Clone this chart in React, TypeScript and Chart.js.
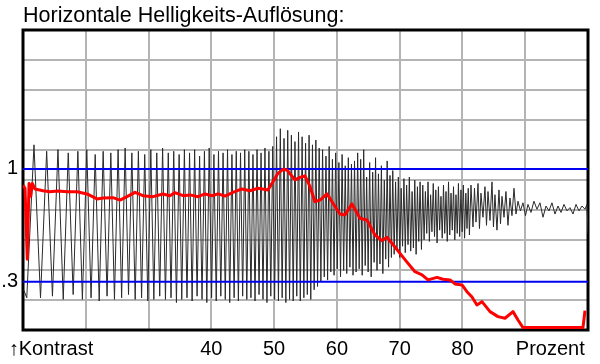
import React, { useEffect, useRef } from 'react';
import { Chart, registerables } from 'chart.js';

Chart.register(...registerables);

// ---------- text ----------
const TITLE = 'Horizontale Helligkeits-Auflösung:';

// ---------- axes ----------
const xMin = 10;
const xMax = 100;
const xGridStep = 10;
const yMin = 0;
const yMax = 1.863;
const yGridCount = 10;

const xTickValues = [14.46, 40, 50, 60, 70, 80, 94.0];
const xTickLabels = ['↑Kontrast', '40', '50', '60', '70', '80', 'Prozent'];
const yTickValues = [0.3, 1];
const yTickLabels = ['.3', '1'];

// blue reference levels
const referenceLevels = [1, 0.3];

// ---------- red contrast curve ----------
const redX = [10, 10.32, 10.68, 10.96, 11.23, 11.48, 11.91, 13.19, 14.30, 15.58, 17.01, 18.60, 20.19, 21.79, 22.74, 24.34, 25.45, 26.57, 27.84, 29.11, 30.71, 32.30, 33.41, 34.21, 35.49, 36.60, 37.88, 38.99, 40.10, 41.06, 42.18, 43.45, 44.88, 46.16, 47.43, 49.02, 49.82, 50.62, 51.41, 52.05, 53.33, 54.12, 54.92, 55.72, 56.51, 57.31, 58.42, 59.38, 60.49, 61.29, 62.40, 63.68, 64.79, 66.07, 67.18, 67.98, 68.78, 70.05, 71.33, 72.44, 73.56, 74.51, 75.95, 76.90, 78.02, 78.81, 79.93, 80.72, 81.52, 82.31, 83.11, 84.39, 85.66, 86.78, 88.05, 88.85, 89.64, 99.20, 99.52];
const redY = [0.90, 0.88, 0.44, 0.91, 0.83, 0.91, 0.876, 0.865, 0.859, 0.863, 0.859, 0.859, 0.845, 0.814, 0.820, 0.822, 0.807, 0.828, 0.855, 0.834, 0.828, 0.845, 0.834, 0.853, 0.834, 0.839, 0.828, 0.845, 0.834, 0.845, 0.832, 0.855, 0.876, 0.865, 0.880, 0.870, 0.921, 0.973, 0.998, 0.994, 0.932, 0.948, 0.957, 0.890, 0.797, 0.807, 0.845, 0.787, 0.720, 0.714, 0.783, 0.694, 0.683, 0.590, 0.555, 0.576, 0.539, 0.476, 0.414, 0.362, 0.342, 0.311, 0.327, 0.315, 0.311, 0.286, 0.280, 0.238, 0.205, 0.155, 0.176, 0.114, 0.083, 0.073, 0.114, 0.062, 0.015, 0.015, 0.120];

// ---------- black luminance signal (sweep) ----------
const waveLeadX = [10.1, 10.6];
const waveLeadY = [0.25, 0.20];

// positions of successive extremes (peak, trough, peak, ...)
const waveX = [
  11.75, 12.79, 13.77, 14.69, 15.57, 16.41, 17.21, 17.99, 18.74, 19.46,
  20.16, 20.84, 21.50, 22.14, 22.77, 23.39, 23.99, 24.57, 25.15, 25.71,
  26.27, 26.81, 27.34, 27.87, 28.38, 28.89, 29.39, 29.88, 30.36, 30.84,
  31.31, 31.78, 32.24, 32.69, 33.14, 33.58, 34.01, 34.44, 34.87, 35.29,
  35.71, 36.12, 36.53, 36.94, 37.34, 37.73, 38.13, 38.52, 38.90, 39.28,
  39.66, 40.04, 40.41, 40.78, 41.14, 41.51, 41.87, 42.22, 42.58, 42.93,
  43.28, 43.63, 43.97, 44.31, 44.65, 44.99, 45.32, 45.65, 45.98, 46.31,
  46.63, 46.96, 47.28, 47.60, 47.92, 48.23, 48.54, 48.86, 49.17, 49.47,
  49.78, 50.08, 50.39, 50.69, 50.99, 51.28, 51.58, 51.87, 52.17, 52.46,
  52.75, 53.04, 53.32, 53.61, 53.89, 54.17, 54.46, 54.74, 55.01, 55.29,
  55.57, 55.84, 56.11, 56.38, 56.65, 56.92, 57.18, 57.45, 57.72, 57.99,
  58.26, 58.52, 58.77, 59.03, 59.29, 59.55, 59.80, 60.06, 60.32, 60.58,
  60.83, 61.08, 61.33, 61.57, 61.82, 62.07, 62.32, 62.57, 62.81, 63.06,
  63.31, 63.55, 63.79, 64.03, 64.27, 64.51, 64.74, 64.98, 65.22, 65.46,
  65.70, 65.93, 66.16, 66.39, 66.62, 66.86, 67.09, 67.32, 67.55, 67.78,
  68.01, 68.23, 68.46, 68.68, 68.90, 69.12, 69.35, 69.57, 69.79, 70.02,
  70.24, 70.46, 70.68, 70.89, 71.11, 71.33, 71.54, 71.76, 71.98, 72.19,
  72.41, 72.62, 72.83, 73.04, 73.25, 73.47, 73.68, 73.89, 74.10, 74.31,
  74.52, 74.73, 74.93, 75.14, 75.35, 75.55, 75.76, 75.96, 76.17, 76.37,
  76.58, 76.78, 76.98, 77.18, 77.38, 77.58, 77.78, 77.98, 78.18, 78.38,
  78.58, 78.78, 78.97, 79.17, 79.36, 79.56, 79.76, 79.95, 80.15, 80.34,
  80.54, 80.73, 80.92, 81.11,
];

const wavePeaks = [
  1.15, 1.11, 1.12, 1.10, 1.11, 1.12, 1.09, 1.11, 1.10, 1.12, 1.13, 1.10, 1.11, 1.09, 1.12, 1.10, 1.13, 1.10, 1.11, 1.09, 1.12,
  1.10, 1.12, 1.08, 1.11, 1.13, 1.09, 1.11, 1.10, 1.12, 1.09, 1.11, 1.10, 1.12,
  1.11, 1.09, 1.12, 1.10, 1.13, 1.11, 1.14,
  1.20, 1.25, 1.19, 1.24, 1.21, 1.17, 1.23,
  1.20, 1.16, 1.21, 1.15, 1.18, 1.13,
  1.12, 1.08, 1.14, 1.06, 1.10, 1.04, 1.09, 1.02, 1.07, 1.03, 1.05,
  1.10, 1.06, 1.12, 0.95, 1.04, 0.98, 1.07, 0.97, 1.02, 0.93, 1.05, 0.96,
  0.99, 0.92, 0.95, 0.88, 0.94, 0.90, 0.95, 0.86, 0.93, 0.89, 0.92,
  0.90, 0.86, 0.92, 0.84, 0.91, 0.87, 0.89, 0.83, 0.90, 0.86, 0.92, 0.85, 0.89, 0.84, 0.91, 0.87, 0.90, 0.85, 0.88,
];
const waveTroughs = [
  0.20, 0.21, 0.19, 0.22, 0.19, 0.20, 0.18, 0.21, 0.19, 0.20, 0.22, 0.19, 0.20, 0.18, 0.19, 0.21, 0.19, 0.20, 0.17, 0.19, 0.20,
  0.18, 0.21, 0.19, 0.17, 0.20, 0.18, 0.21, 0.19, 0.17, 0.20, 0.18, 0.21, 0.19,
  0.20, 0.18, 0.22, 0.19, 0.17, 0.21, 0.19,
  0.18, 0.20, 0.17, 0.19, 0.18, 0.21, 0.18,
  0.20, 0.22, 0.19, 0.25, 0.27, 0.30,
  0.33, 0.31, 0.36, 0.34, 0.38, 0.33, 0.37, 0.35, 0.39, 0.34, 0.36,
  0.38, 0.34, 0.40, 0.36, 0.33, 0.42, 0.37, 0.41, 0.35, 0.44, 0.39, 0.45,
  0.47, 0.50, 0.45, 0.52, 0.48, 0.53, 0.49, 0.51, 0.47, 0.55, 0.50,
  0.56, 0.60, 0.55, 0.61, 0.58, 0.54, 0.62, 0.57, 0.60, 0.55, 0.59, 0.62, 0.56, 0.60, 0.58, 0.61, 0.57, 0.63, 0.59,
];

// residual noise beyond the resolution limit
const noiseX = [
  81.36, 81.68, 81.92, 82.16, 82.48, 82.71, 82.95, 83.27, 83.59, 83.83,
  84.07, 84.39, 84.71, 84.94, 85.18, 85.50, 85.82, 86.06, 86.30, 86.62,
  86.93, 87.25, 87.57, 87.89, 88.21, 88.53, 88.85, 89.24, 89.64, 90.04,
  90.44, 90.92, 91.39, 91.87, 92.35, 92.83, 93.31, 93.79, 94.26, 94.74,
  95.22, 95.70, 96.17, 96.65, 97.13, 97.61, 98.09, 98.56, 99.04, 99.52,
  99.84, 100.0,
];
const noiseY = [
  0.90, 0.64, 0.88, 0.67, 0.91, 0.63, 0.85, 0.70, 0.89, 0.65,
  0.86, 0.68, 0.92, 0.64, 0.84, 0.62, 0.87, 0.66, 0.83, 0.70,
  0.86, 0.65, 0.82, 0.71, 0.88, 0.72, 0.80, 0.74, 0.79, 0.71,
  0.78, 0.73, 0.80, 0.75, 0.79, 0.70, 0.77, 0.74, 0.79, 0.72,
  0.77, 0.73, 0.78, 0.74, 0.76, 0.72, 0.78, 0.74, 0.77, 0.75,
  0.78, 0.60,
];

const FONT = 'Liberation Sans, Arial, sans-serif';
const GRID = '#b4b4b4';

const frame = {
  id: 'frame',
  beforeDatasetsDraw(chart: any) {
    const { ctx, chartArea: a } = chart;
    ctx.save();
    ctx.strokeStyle = '#000';
    ctx.lineWidth = 3;
    ctx.strokeRect(a.left, a.top, a.right - a.left, a.bottom - a.top);
    ctx.restore();
  },
};

const near = (a: number, b: number) => Math.abs(a - b) < 1e-6;

export default function App() {
  const ref = useRef<HTMLCanvasElement>(null);

  useEffect(() => {
    const yStep = (yMax - yMin) / yGridCount;
    const interleaved = wavePeaks.flatMap((p, i) => [p, waveTroughs[i]]);
    const wave = [
      ...waveLeadX.map((x, i) => ({ x, y: waveLeadY[i] })),
      ...waveX.map((x, i) => ({ x, y: interleaved[i] })),
      ...noiseX.map((x, i) => ({ x, y: noiseY[i] })),
    ];
    const red = redX.map((x, i) => ({ x, y: redY[i] }));

    const isXGrid = (v: number) => near(v / xGridStep, Math.round(v / xGridStep));
    const isYGrid = (v: number) => near(v / yStep, Math.round(v / yStep));

    const chart = new Chart(ref.current!, {
      type: 'line',
      data: {
        datasets: [
          {
            data: red,
            borderColor: '#ff0000',
            borderWidth: 3,
            pointRadius: 0,
            tension: 0,
            borderJoinStyle: 'round',
            order: 0,
          },
          ...referenceLevels.map((lv) => ({
            data: [{ x: xMin, y: lv }, { x: xMax, y: lv }],
            borderColor: '#0000f0',
            borderWidth: 2,
            pointRadius: 0,
            order: 1,
          })),
          {
            data: wave,
            borderColor: '#2a2a2a',
            borderWidth: 1,
            pointRadius: 0,
            tension: 0,
            order: 2,
          },
        ] as any,
      },
      options: {
        responsive: false,
        animation: false,
        events: [],
        layout: { padding: { left: 0, right: 12, top: 0, bottom: 0 } },
        plugins: {
          legend: { display: false },
          tooltip: { enabled: false },
          title: {
            display: true,
            text: TITLE,
            align: 'start',
            fullSize: false,
            color: '#000',
            font: { family: FONT, size: 21.5, weight: 'normal', lineHeight: 25 / 21.5 },
            padding: { top: 4, bottom: 1 },
          },
        },
        scales: {
          x: {
            type: 'linear',
            min: xMin,
            max: xMax,
            border: { display: false },
            grid: {
              drawTicks: false,
              lineWidth: 2,
              color: (c: any) => (c.tick && isXGrid(c.tick.value) ? GRID : 'rgba(0,0,0,0)'),
            },
            ticks: {
              autoSkip: false,
              maxRotation: 0,
              minRotation: 0,
              padding: 7,
              color: '#000',
              font: { family: FONT, size: 20 },
              callback: (v: any) => {
                const i = xTickValues.findIndex((t) => near(t, Number(v)));
                return i >= 0 ? xTickLabels[i] : '';
              },
            },
            afterBuildTicks: (scale: any) => {
              const vals: number[] = [];
              for (let v = xMin; v <= xMax; v += xGridStep) vals.push(v);
              xTickValues.forEach((t) => { if (!vals.some((v) => near(v, t))) vals.push(t); });
              scale.ticks = vals.sort((a, b) => a - b).map((value) => ({ value }));
            },
            afterFit: (scale: any) => { scale.height = 34; },
          },
          y: {
            type: 'linear',
            min: yMin,
            max: yMax,
            border: { display: false },
            grid: {
              drawTicks: false,
              lineWidth: 2,
              color: (c: any) => (c.tick && isYGrid(c.tick.value) ? GRID : 'rgba(0,0,0,0)'),
            },
            ticks: {
              autoSkip: false,
              padding: 5,
              color: '#000',
              font: { family: FONT, size: 20 },
              callback: (v: any) => {
                const i = yTickValues.findIndex((t) => near(t, Number(v)));
                return i >= 0 ? yTickLabels[i] : '';
              },
            },
            afterBuildTicks: (scale: any) => {
              const vals: number[] = [];
              for (let k = 0; k <= yGridCount; k++) vals.push(yMin + k * yStep);
              yTickValues.forEach((t) => vals.push(t));
              scale.ticks = vals.sort((a, b) => a - b).map((value) => ({ value }));
            },
            afterFit: (scale: any) => { scale.width = 23; },
          },
        },
      } as any,
      plugins: [frame],
    });
    return () => chart.destroy();
  }, []);

  return (
    <div style={{ position: 'absolute', left: 0, top: 0, width: 600, height: 364, background: '#fff' }}>
      <canvas ref={ref} width={600} height={364} style={{ display: 'block' }} />
    </div>
  );
}
